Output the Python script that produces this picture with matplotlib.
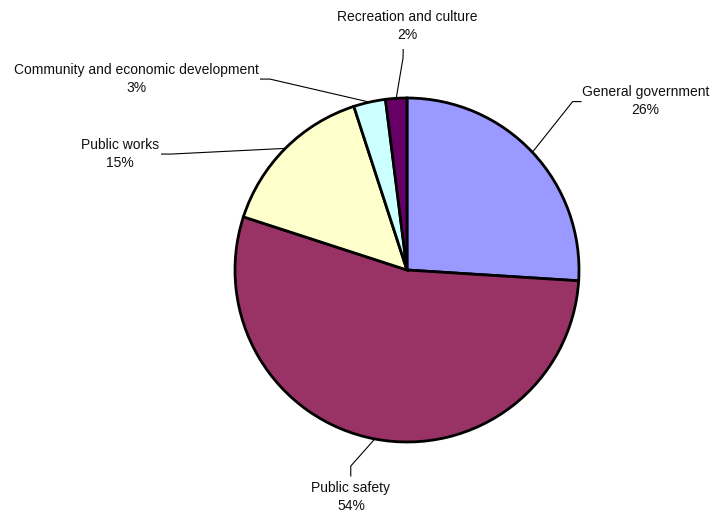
import numpy as np
import matplotlib; matplotlib.use("Agg")
import matplotlib.pyplot as plt

plt.rcParams['font.family'] = ['Liberation Sans', 'DejaVu Sans']

categories = ["General government", "Public safety", "Public works",
              "Community and economic development", "Recreation and culture"]
shares = [26, 54, 15, 3, 2]
colors = ["#9999FF", "#993366", "#FFFFCC", "#CCFFFF", "#660066"]

# label layout (data units, pie radius = 1): text centre, leader end, elbow
text_pos = [(1.387, 0.983), (-0.326, -1.320), (-1.669, 0.674),
            (-1.575, 1.110), (0.0, 1.419)]
leader_end = [(1.015, 0.979), (-0.327, -1.201), (-1.430, 0.674),
              (-0.855, 1.110), (-0.022, 1.285)]
leader_elbow = [(0.963, 0.979), (-0.327, -1.140), (-1.372, 0.674),
                (-0.797, 1.110), (-0.023, 1.233)]

fig = plt.figure(figsize=(7.14, 5.14), dpi=100)
ax = fig.add_axes([0, 0, 1, 1])
wedges, _ = ax.pie(shares, colors=colors, startangle=90, counterclock=False,
                   wedgeprops=dict(edgecolor="black", linewidth=2.0))

for w, name, val, tp, le, lb in zip(wedges, categories, shares,
                                    text_pos, leader_end, leader_elbow):
    mid = np.deg2rad((w.theta1 + w.theta2) / 2)
    edge = (np.cos(mid), np.sin(mid))
    ax.plot([edge[0], lb[0], le[0]], [edge[1], lb[1], le[1]],
            color="black", lw=0.8, solid_capstyle="butt")
    ax.text(tp[0], tp[1], f"{name}\n{val}%", ha="center", va="center",
            fontsize=10.0, linespacing=1.35, color="#111111")

ax.set_aspect("auto")
ax.set_xlim(-407 / 172, 307 / 172)
ax.set_ylim((270 - 514) / 172, 270 / 172)
ax.axis("off")

fig.savefig("out.png", dpi=100)
